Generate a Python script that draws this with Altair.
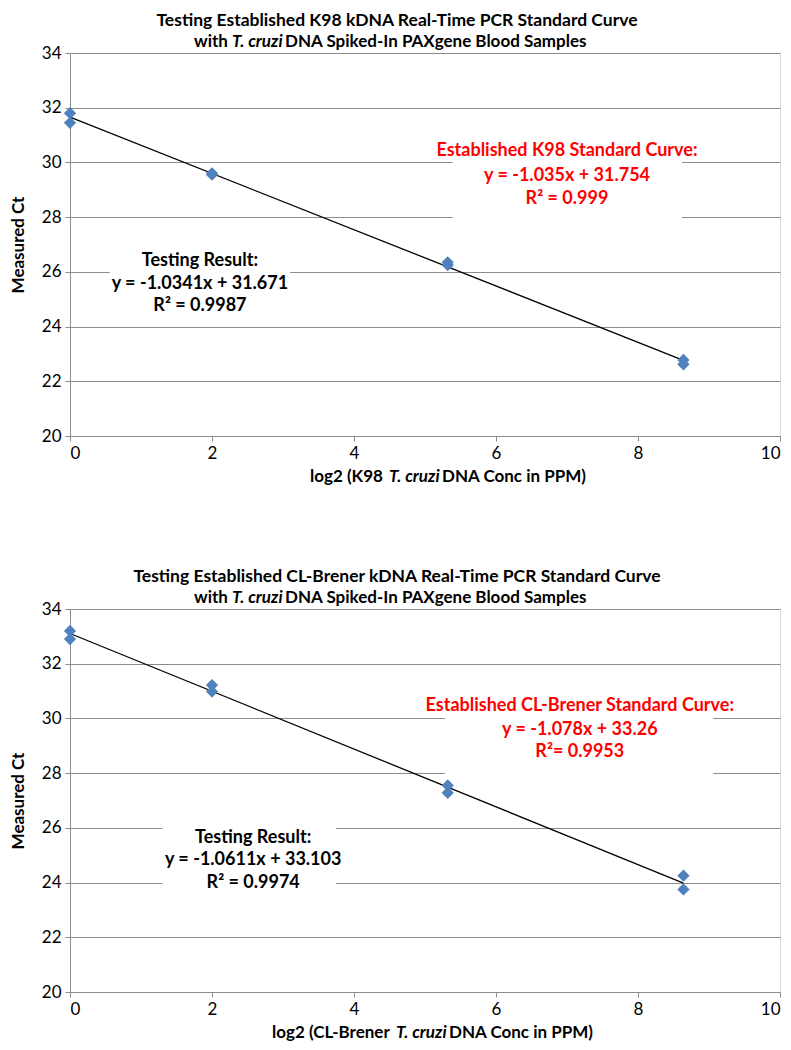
import altair as alt
import pandas as pd

FONT = "Lato"
BLUE = "#4F81BD"
GRID = "#8c8c8c"

# ---- data ----
k98_x = [0, 0, 2, 2, 5.32, 5.32, 8.64, 8.64]
k98_y = [31.8, 31.45, 29.6, 29.55, 26.35, 26.25, 22.78, 22.62]

clb_x = [0, 0, 2, 2, 5.32, 5.32, 8.64, 8.64]
clb_y = [33.2, 32.9, 31.22, 30.98, 27.55, 27.28, 24.25, 23.75]

# annotation text (x, y in data units)
k98_red = ["Established K98 Standard Curve:", "y = -1.035x + 31.754", "R² = 0.999"]
k98_red_y = [30.43, 29.52, 28.68]
k98_red_x = 7.0
k98_blk = ["Testing Result:", "y = -1.0341x + 31.671", "R² = 0.9987"]
k98_blk_y = [26.38, 25.54, 24.74]
k98_blk_x = 1.83

clb_red = ["Established CL-Brener Standard Curve:", "y = -1.078x + 33.26", "R²= 0.9953"]
clb_red_y = [30.44, 29.59, 28.78]
clb_red_x = 7.18
clb_blk = ["Testing Result:", "y = -1.0611x + 33.103", "R² = 0.9974"]
clb_blk_y = [25.62, 24.81, 24.0]
clb_blk_x = 2.58

# white label boxes (x1, x2, y1, y2)
k98_boxes = [(5.39, 8.62, 30.8, 27.9), (0.56, 3.1, 27.2, 24.2)]
clb_boxes = [(5.28, 9.06, 31.0, 27.8), (1.3, 3.75, 26.4, 23.5)]

W, H = 710, 383
L = 70  # page x of plot left edge


def seg_text(txt, x, y, italic=False, align="left", size=17):
    return alt.Chart(pd.DataFrame({"t": [txt]})).mark_text(
        font=FONT, fontSize=size, fontWeight="bold",
        fontStyle="italic" if italic else "normal",
        align=align, baseline="middle", color="black",
    ).encode(x=alt.value(x), y=alt.value(y), text="t:N")


def mixed(a, b, c, start_px, wa, wb, y):
    # a (bold) + b (bold italic) + c (bold), laid out from start_px
    s = start_px - L
    return (seg_text(a, s, y) + seg_text(b, s + wa + 4, y, italic=True) +
            seg_text(c, s + wa + 4 + wb + 4, y))


def panel(xs, ys, red, red_y, red_x, blk, blk_y, blk_x, boxes,
          title1, t2, xt):
    df = pd.DataFrame({"x": xs, "y": ys})
    xsc = alt.Scale(domain=[0, 10], nice=False)
    ysc = alt.Scale(domain=[20, 34], nice=False)
    xax = alt.Axis(values=[0, 2, 4, 6, 8, 10], grid=False, title=None, format="d",
                   labelFont=FONT, labelFontSize=17, labelColor="black",
                   tickColor=GRID, domainColor=GRID, tickSize=5, labelPadding=4)
    yax = alt.Axis(values=[20, 22, 24, 26, 28, 30, 32, 34], grid=True, format="d",
                   gridColor=GRID, gridWidth=1, title="Measured Ct",
                   titleFont=FONT, titleFontSize=17, titleFontWeight="bold",
                   titleColor="black", titlePadding=14,
                   labelFont=FONT, labelFontSize=17, labelColor="black",
                   tickColor=GRID, domainColor=GRID, tickSize=5, labelPadding=4)

    bx = pd.DataFrame(boxes, columns=["x1", "x2", "y1", "y2"])
    rects = alt.Chart(bx).mark_rect(color="white").encode(
        x=alt.X("x1:Q", scale=xsc, axis=xax), x2="x2:Q",
        y=alt.Y("y1:Q", scale=ysc, axis=yax), y2="y2:Q")

    line = alt.Chart(df).transform_regression("x", "y", method="linear").mark_line(
        color="black", strokeWidth=1.3).encode(
        x=alt.X("x:Q", scale=xsc), y=alt.Y("y:Q", scale=ysc))

    pts = alt.Chart(df).mark_point(shape="diamond", filled=True, color=BLUE,
                                   opacity=1, size=150).encode(
        x=alt.X("x:Q", scale=xsc), y=alt.Y("y:Q", scale=ysc))

    rdf = pd.DataFrame({"t": red, "y": red_y, "x": [red_x] * len(red)})
    rtxt = alt.Chart(rdf).mark_text(font=FONT, fontSize=18, fontWeight="bold",
                                    color="#FF0000", baseline="middle").encode(
        x=alt.X("x:Q", scale=xsc), y=alt.Y("y:Q", scale=ysc), text="t:N")
    bdf = pd.DataFrame({"t": blk, "y": blk_y, "x": [blk_x] * len(blk)})
    btxt = alt.Chart(bdf).mark_text(font=FONT, fontSize=18, fontWeight="bold",
                                    color="black", baseline="middle").encode(
        x=alt.X("x:Q", scale=xsc), y=alt.Y("y:Q", scale=ysc), text="t:N")

    t1 = seg_text(title1, 397 - L, -32, align="center", size=17.5)
    t2m = mixed(*t2, y=-11)
    xtm = mixed(*xt, y=H + 41)

    return alt.layer(rects, line, pts, rtxt, btxt, t1, t2m, xtm).properties(width=W, height=H)


top = panel(k98_x, k98_y, k98_red, k98_red_y, k98_red_x, k98_blk, k98_blk_y, k98_blk_x,
            k98_boxes,
            "Testing Established K98 kDNA Real-Time PCR Standard Curve",
            ("with", "T. cruzi", "DNA Spiked-In PAXgene Blood Samples", 194, 34, 49),
            ("log2 (K98", "T. cruzi", "DNA Conc in PPM)", 310, 75, 49))
bot = panel(clb_x, clb_y, clb_red, clb_red_y, clb_red_x, clb_blk, clb_blk_y, clb_blk_x,
            clb_boxes,
            "Testing Established CL-Brener kDNA Real-Time PCR Standard Curve",
            ("with", "T. cruzi", "DNA Spiked-In PAXgene Blood Samples", 194, 34, 49),
            ("log2 (CL-Brener", "T. cruzi", "DNA Conc in PPM)", 272, 120, 49))

chart = alt.vconcat(top, bot, spacing=173, bounds="flush").properties(
    padding={"left": 0, "top": 3, "right": 0, "bottom": 0}
).configure_view(stroke=None).configure(background="white")

chart.save("out.html", embed_options={"renderer": "svg", "actions": False})
